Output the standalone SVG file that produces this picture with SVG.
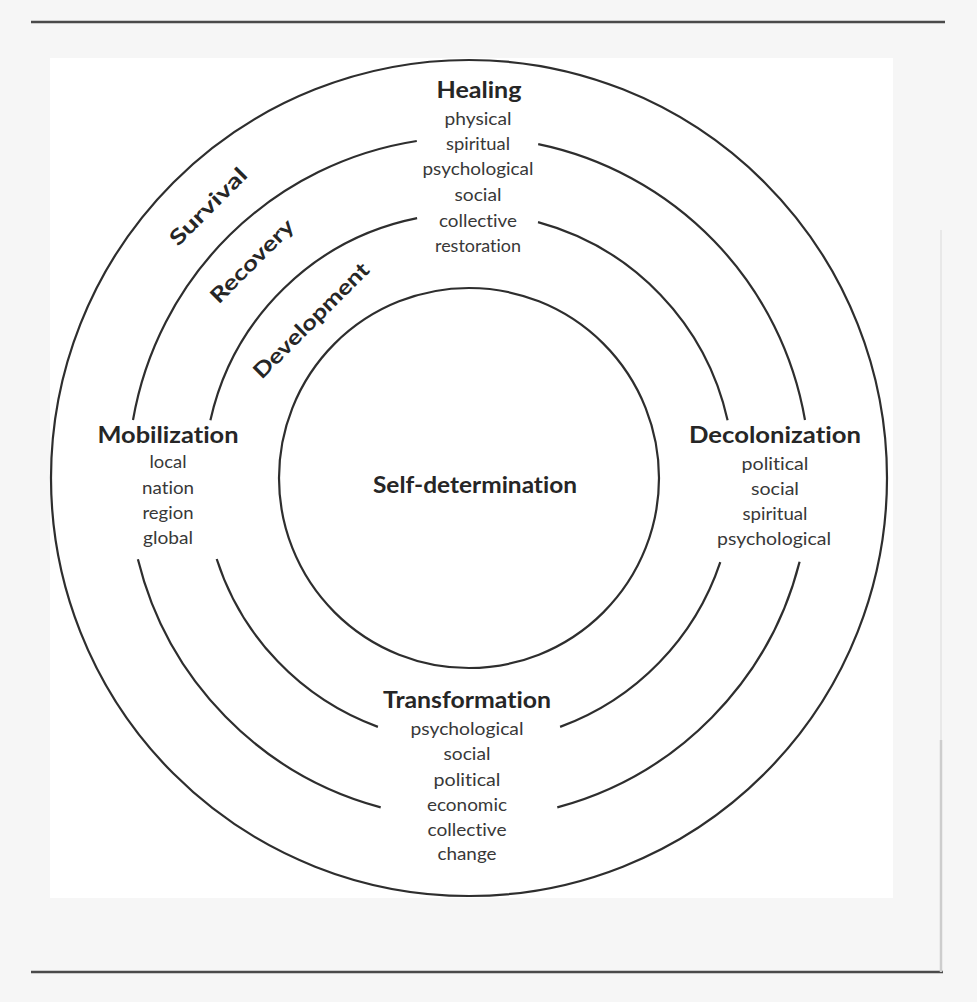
<svg xmlns="http://www.w3.org/2000/svg" width="977" height="1002" viewBox="0 0 977 1002">
  <style>
    .ring { fill: none; stroke: #2e2e2e; stroke-width: 2.2; }
    .rule { stroke: #4a4a4a; stroke-width: 2.5; }
    .title, .band, .item { font-family: Lato, "Open Sans", "Liberation Sans", sans-serif; font-variant-ligatures: none; font-feature-settings: "liga" 0, "dlig" 0; text-anchor: middle; }
    .title { font-weight: 700; font-size: 22px; fill: #262626; }
    .band { font-weight: 700; font-size: 21px; fill: #262626; }
    .item { font-weight: 400; font-size: 17px; fill: #383838; }
  </style>

  <rect x="0" y="0" width="977" height="1002" fill="#f6f6f6"/>
  <rect x="50" y="58" width="843" height="840" fill="#ffffff"/>
  <line class="rule" x1="31" y1="22" x2="945" y2="22"/>
  <line class="rule" x1="31" y1="972" x2="943" y2="972"/>
  <line x1="941" y1="230" x2="941" y2="740" stroke="#e8e8e8" stroke-width="2"/>
  <line x1="941" y1="740" x2="941" y2="972" stroke="#cdcdcd" stroke-width="2.5"/>

  <g id="rings">
    <circle id="outer-ring" class="ring" cx="469" cy="478" r="418"/>
    <g id="ring-survival-recovery">
      <path class="ring" d="M538.2 144.1 A341 341 0 0 1 805.0 420.0"/>
      <path class="ring" d="M799.6 561.7 A341 341 0 0 1 557.3 807.4"/>
      <path class="ring" d="M380.7 807.4 A341 341 0 0 1 137.9 559.3"/>
      <path class="ring" d="M133.0 420.0 A341 341 0 0 1 416.8 141.0"/>
    </g>
    <g id="ring-recovery-development">
      <path class="ring" d="M538.0 222.1 A265 265 0 0 1 727.6 420.2"/>
      <path class="ring" d="M720.3 562.1 A265 265 0 0 1 560.1 726.9"/>
      <path class="ring" d="M377.9 726.9 A265 265 0 0 1 216.7 559.0"/>
      <path class="ring" d="M210.4 420.2 A265 265 0 0 1 417.1 218.1"/>
    </g>
  </g>

  <g id="self-determination">
    <circle class="ring" cx="469" cy="478" r="190"/>
    <text class="title" x="475" y="493" textLength="204" lengthAdjust="spacingAndGlyphs">Self-determination</text>
  </g>

  <g id="survival">
    <text class="band" transform="translate(208.3,206.7) rotate(-45)" y="7" textLength="100" lengthAdjust="spacingAndGlyphs">Survival</text>
  </g>
  <g id="recovery">
    <text class="band" transform="translate(253.3,262.3) rotate(-45)" y="5.5" textLength="109" lengthAdjust="spacingAndGlyphs">Recovery</text>
  </g>
  <g id="development">
    <text class="band" transform="translate(312.3,321.7) rotate(-45)" y="5.5" textLength="154" lengthAdjust="spacingAndGlyphs">Development</text>
  </g>

  <g id="healing">
    <text class="title" x="479" y="98" textLength="85" lengthAdjust="spacingAndGlyphs">Healing</text>
    <text class="item" x="478" y="125" textLength="67" lengthAdjust="spacingAndGlyphs">physical</text>
    <text class="item" x="478" y="150" textLength="64" lengthAdjust="spacingAndGlyphs">spiritual</text>
    <text class="item" x="478" y="175" textLength="111" lengthAdjust="spacingAndGlyphs">psychological</text>
    <text class="item" x="478" y="201" textLength="47" lengthAdjust="spacingAndGlyphs">social</text>
    <text class="item" x="478" y="227" textLength="78" lengthAdjust="spacingAndGlyphs">collective</text>
    <text class="item" x="478" y="252" textLength="86" lengthAdjust="spacingAndGlyphs">restoration</text>
  </g>

  <g id="mobilization">
    <text class="title" x="168" y="443" textLength="141" lengthAdjust="spacingAndGlyphs">Mobilization</text>
    <text class="item" x="168" y="468" textLength="37" lengthAdjust="spacingAndGlyphs">local</text>
    <text class="item" x="168" y="494" textLength="52" lengthAdjust="spacingAndGlyphs">nation</text>
    <text class="item" x="168" y="519" textLength="51" lengthAdjust="spacingAndGlyphs">region</text>
    <text class="item" x="168" y="544" textLength="50" lengthAdjust="spacingAndGlyphs">global</text>
  </g>

  <g id="decolonization">
    <text class="title" x="775" y="443" textLength="172" lengthAdjust="spacingAndGlyphs">Decolonization</text>
    <text class="item" x="775" y="470" textLength="67" lengthAdjust="spacingAndGlyphs">political</text>
    <text class="item" x="775" y="495" textLength="48" lengthAdjust="spacingAndGlyphs">social</text>
    <text class="item" x="775" y="520" textLength="65" lengthAdjust="spacingAndGlyphs">spiritual</text>
    <text class="item" x="774" y="545" textLength="114" lengthAdjust="spacingAndGlyphs">psychological</text>
  </g>

  <g id="transformation">
    <text class="title" x="467" y="708" textLength="168" lengthAdjust="spacingAndGlyphs">Transformation</text>
    <text class="item" x="467" y="735" textLength="113" lengthAdjust="spacingAndGlyphs">psychological</text>
    <text class="item" x="467" y="760" textLength="47" lengthAdjust="spacingAndGlyphs">social</text>
    <text class="item" x="467" y="786" textLength="67" lengthAdjust="spacingAndGlyphs">political</text>
    <text class="item" x="467" y="811" textLength="80" lengthAdjust="spacingAndGlyphs">economic</text>
    <text class="item" x="467" y="836" textLength="79" lengthAdjust="spacingAndGlyphs">collective</text>
    <text class="item" x="467" y="860" textLength="59" lengthAdjust="spacingAndGlyphs">change</text>
  </g>
</svg>
